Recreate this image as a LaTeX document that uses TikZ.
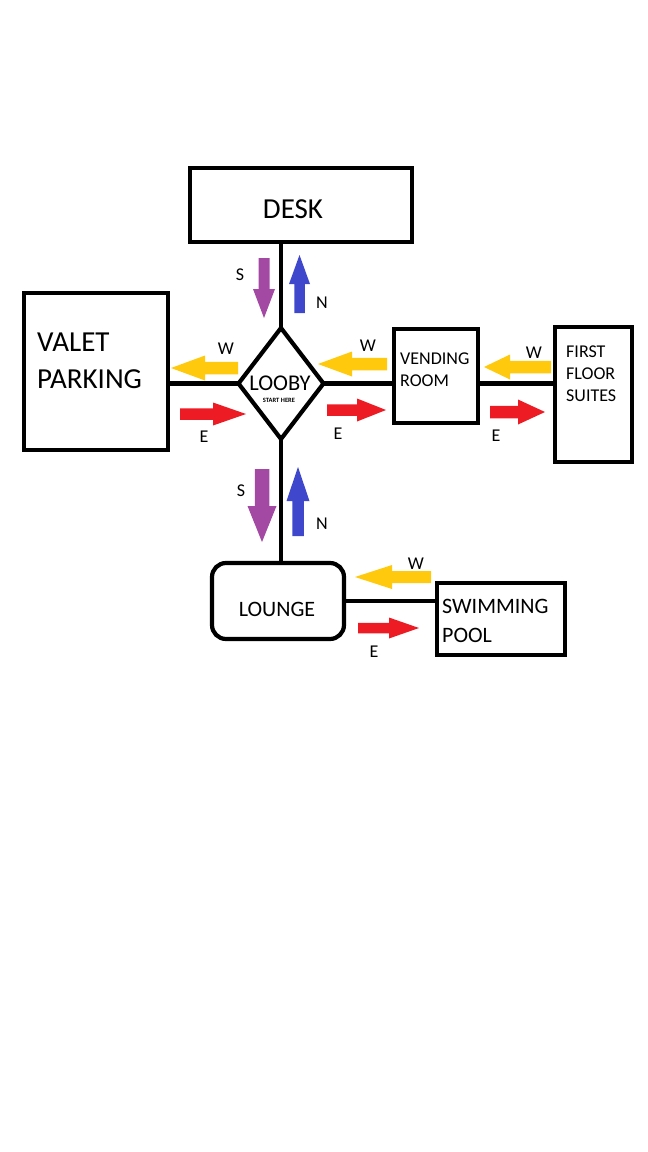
\documentclass[tikz,border=0pt]{standalone}
\usepackage{fontspec}
\setmainfont{Carlito}
\usepackage{tikz}
\usetikzlibrary{shapes.geometric, calc}

\definecolor{paintpurple}{HTML}{A349A4}
\definecolor{paintblue}{HTML}{3F48CC}
\definecolor{paintyellow}{HTML}{FFC90E}
\definecolor{paintred}{HTML}{ED1C24}

\begin{document}
\begin{tikzpicture}[
  x=1pt, y=-1pt,
  room/.style={rectangle, draw, line width=4.2pt, inner sep=0pt, outer sep=0pt},
  hall/.style={line width=4.5pt},
  roomtext/.style={inner sep=0pt, align=left, anchor=west},
  dirlabel/.style={inner sep=0pt, font=\fontsize{18}{20}\selectfont},
  pics/dirarrow/.style n args={3}{code={
    \fill (0,-#3/2) -- (#1-#2,-#3/2) -- (#1-#2,-#3) -- (#1,0)
      -- (#1-#2,#3) -- (#1-#2,#3/2) -- (0,#3/2) -- cycle;}},
  goN/.style={fill=paintblue, rotate=90},
  goS/.style={fill=paintpurple, rotate=270},
  goW/.style={fill=paintyellow, rotate=180},
  goE/.style={fill=paintred}
]
\useasboundingbox (0,0) rectangle (648,1152);

% --- Rooms ---
\node[room, minimum width=222pt, minimum height=74pt] (desk) at (301,205) {};
\node[room, minimum width=144pt, minimum height=157pt] (valet) at (96,371.5) {};
\node[diamond, draw, line width=4.2pt, inner sep=0pt, outer sep=0pt,
      minimum width=85pt, minimum height=111pt] (looby) at (281,383.5) {};
\node[room, minimum width=84pt, minimum height=94pt] (vending) at (436,376) {};
\node[room, minimum width=77pt, minimum height=135pt] (suites) at (593.5,394.5) {};
\node[room, rounded corners=14pt, minimum width=132pt, minimum height=76pt] (lounge) at (278,601) {};
\node[room, minimum width=128pt, minimum height=72pt] (pool) at (501,619) {};

% --- Room names ---
\node[inner sep=0pt, anchor=base, font=\fontsize{29}{34}\selectfont] (desk-name) at (293,218) {DESK};
\node[roomtext, font=\fontsize{29}{37}\selectfont] (valet-name) at (37,361) {VALET\\PARKING};
\node[inner sep=0pt, anchor=base, font=\fontsize{22.5}{26}\selectfont] (looby-name) at (280,390) {LOOBY};
\node[inner sep=0pt, anchor=base, font=\bfseries\fontsize{6.5}{8}\selectfont] (looby-start) at (279,402) {START HERE};
\node[roomtext, font=\fontsize{18}{22}\selectfont] (vending-name) at (400,370) {VENDING\\ROOM};
\node[roomtext, font=\fontsize{18}{22}\selectfont] (suites-name) at (566,374) {FIRST\\FLOOR\\SUITES};
\node[inner sep=0pt, anchor=base, font=\fontsize{22}{26}\selectfont] (lounge-name) at (277,616) {LOUNGE};
\node[roomtext, font=\fontsize{22}{29}\selectfont] (pool-name) at (442,621) {SWIMMING\\POOL};

% --- Hallways ---
\draw[hall] (looby.north) -- (looby.north |- desk.south);
\draw[hall] (looby.west) -- (looby.west -| valet.east);
\draw[hall] (looby.east) -- (looby.east -| vending.west);
\draw[hall] (looby.east -| vending.east) -- (looby.east -| suites.west);
\draw[hall] (looby.south) -- (looby.south |- lounge.north);
\draw[hall] (lounge.east) -- (lounge.east -| pool.west);

% --- Direction arrows ---
\pic[goS] at (264,258) {dirarrow={60}{29}{11}};
\pic[goN] at (299.5,313) {dirarrow={58}{29}{10.5}};
\pic[goW] at (238,368) {dirarrow={67}{34}{12.5}};
\pic[goE] at (180,414) {dirarrow={66}{33}{11.5}};
\pic[goW] at (387,364) {dirarrow={69}{34}{12.5}};
\pic[goE] at (327,410) {dirarrow={59}{29}{11.5}};
\pic[goW] at (551,367) {dirarrow={67}{26}{12.5}};
\pic[goE] at (490,412) {dirarrow={55}{27}{12.5}};
\pic[goS] at (262,469) {dirarrow={73}{36}{14.5}};
\pic[goN] at (298,536) {dirarrow={69}{34}{11.5}};
\pic[goW] at (431,577) {dirarrow={76}{37}{12}};
\pic[goE] at (358,628) {dirarrow={61}{30}{10.5}};

% --- Direction letters ---
\node[dirlabel] (s-top) at (240,275) {S};
\node[dirlabel] (n-top) at (322,303) {N};
\node[dirlabel] (s-low) at (241,491) {S};
\node[dirlabel] (n-low) at (322,524) {N};
\node[dirlabel] (w-valet) at (226,349) {W};
\node[dirlabel] (e-valet) at (204,437) {E};
\node[dirlabel] (w-vending) at (368,346) {W};
\node[dirlabel] (e-vending) at (338,434) {E};
\node[dirlabel] (w-suites) at (534,353) {W};
\node[dirlabel] (e-suites) at (496,436) {E};
\node[dirlabel] (w-pool) at (416,564) {W};
\node[dirlabel] (e-pool) at (374,652) {E};

\end{tikzpicture}
\end{document}
